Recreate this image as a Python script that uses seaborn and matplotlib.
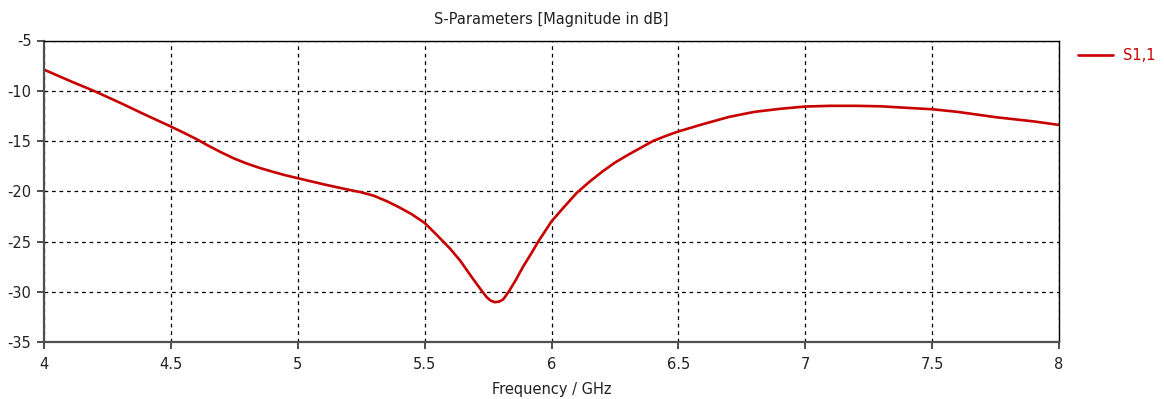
import matplotlib
matplotlib.use("Agg")
import matplotlib.pyplot as plt
import seaborn as sns
import pandas as pd

# S11 magnitude (dB) versus frequency (GHz)
freq_ghz = [4.0, 4.1, 4.2, 4.3, 4.4, 4.5, 4.55, 4.6, 4.65, 4.7, 4.75, 4.8,
            4.85, 4.9, 4.95, 5.0, 5.1, 5.2, 5.25, 5.3, 5.35, 5.4, 5.45, 5.5,
            5.55, 5.6, 5.64, 5.69, 5.725, 5.745, 5.76, 5.777, 5.795, 5.81,
            5.83, 5.86, 5.889, 5.92, 5.948, 6.0, 6.05, 6.1, 6.15, 6.2, 6.25,
            6.3, 6.35, 6.4, 6.45, 6.5, 6.6, 6.7, 6.8, 6.9, 7.0, 7.1, 7.2,
            7.3, 7.4, 7.5, 7.6, 7.75, 7.9, 8.0]
s11_db = [-7.9, -9.0, -10.05, -11.2, -12.4, -13.56, -14.17, -14.8, -15.5,
          -16.15, -16.75, -17.25, -17.68, -18.05, -18.4, -18.7, -19.3, -19.85,
          -20.1, -20.45, -20.98, -21.6, -22.3, -23.15, -24.4, -25.7, -26.9,
          -28.7, -29.9, -30.55, -30.88, -31.04, -30.97, -30.75, -30.05, -28.8,
          -27.46, -26.2, -25.0, -23.0, -21.55, -20.15, -19.05, -18.05, -17.15,
          -16.4, -15.7, -15.0, -14.5, -14.05, -13.3, -12.6, -12.1, -11.8,
          -11.57, -11.5, -11.5, -11.55, -11.7, -11.84, -12.1, -12.63, -13.05,
          -13.4]
series_name = "S1,1"

x_ticks = [4, 4.5, 5, 5.5, 6, 6.5, 7, 7.5, 8]
x_tick_labels = ["4", "4.5", "5", "5.5", "6", "6.5", "7", "7.5", "8"]
y_ticks = [-35, -30, -25, -20, -15, -10, -5]

df = pd.DataFrame({"Frequency": freq_ghz, "S11": s11_db,
                   "Series": [series_name] * len(freq_ghz)})

sns.set_style("white")
plt.rcParams["font.family"] = ["DejaVu Sans"]
plt.rcParams["axes.unicode_minus"] = False

line_color = "#c80000"
text_color = "#222222"
W, H = 1164, 399

fig = plt.figure(figsize=(W / 100, H / 100), dpi=100)
ax = fig.add_axes([44 / W, 1 - 342 / H, (1059 - 44) / W, (342 - 40.5) / H])

sns.lineplot(data=df, x="Frequency", y="S11", hue="Series",
             palette=[line_color], linewidth=1.9, ax=ax, legend=True)

ax.set_xlim(4, 8)
ax.set_ylim(-35, -5)
ax.set_xticks(x_ticks)
ax.set_xticklabels(x_tick_labels)
ax.set_yticks(y_ticks)

ax.grid(True, color="black", linestyle=(0, (3, 3)), linewidth=0.9)
ax.set_axisbelow(True)

for side in ("top", "right"):
    ax.spines[side].set_color("black")
    ax.spines[side].set_linewidth(1.0)
for side in ("left", "bottom"):
    ax.spines[side].set_color("#505050")
    ax.spines[side].set_linewidth(1.6)

ax.tick_params(axis="both", which="major", direction="out", length=5, width=1.2,
               color="#303030", labelsize=10.5, labelcolor=text_color,
               left=True, bottom=True)
ax.tick_params(axis="x", pad=6)
ax.tick_params(axis="y", pad=4)

ax.set_title("S-Parameters [Magnitude in dB]", fontsize=10.5, color=text_color, pad=12)
ax.set_xlabel("Frequency / GHz", fontsize=10.5, color=text_color, labelpad=7)
ax.set_ylabel("")

ax.legend(loc="upper left", bbox_to_anchor=(1078 / W, 1 - 48 / H),
          bbox_transform=fig.transFigure, frameon=False, borderpad=0,
          borderaxespad=0, handlelength=2.4, handletextpad=0.7,
          fontsize=10.5, labelcolor=line_color)

fig.savefig("out.png", dpi=100, facecolor="white")
